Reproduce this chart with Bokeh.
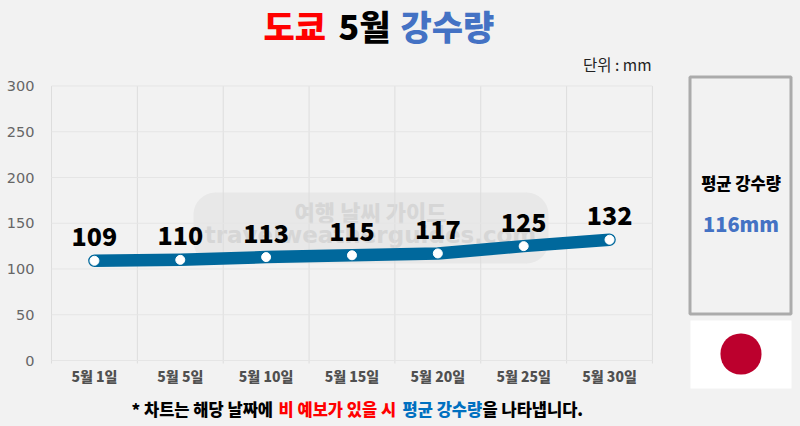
from bokeh.plotting import figure
from bokeh.embed import file_html
from bokeh.resources import INLINE
from bokeh.models import Range1d, FixedTicker, Label, BoxAnnotation, ColumnDataSource
from bokeh.core.properties import value

categories = ["5월 1일", "5월 5일", "5월 10일", "5월 15일", "5월 20일", "5월 25일", "5월 30일"]
rainfall = [109, 110, 113, 115, 117, 125, 132]
y_ticks = [0, 50, 100, 150, 200, 250, 300]

BG = "#f2f2f2"
KR = "Noto Sans CJK KR"
KRB = "Noto Sans CJK KR Black"
W, H = 800, 426

# page pixels of the plot area: the frame fills the page, the ranges put the axes in place
PX_X0, PX_XU = 51.0, 85.85     # page x of category edge 0, pixels per category
PX_Y0, PX_YU = 360.0, 0.915    # page y of value 0, pixels per unit
Y_BOTTOM = -3.3

x_pos = [i + 0.5 for i in range(len(categories))]
x_edges = list(range(len(categories) + 1))

p = figure(width=W, height=H, output_backend="svg", toolbar_location=None,
           x_range=Range1d(-PX_X0 / PX_XU, (W - PX_X0) / PX_XU),
           y_range=Range1d((PX_Y0 - H) / PX_YU, PX_Y0 / PX_YU),
           background_fill_color=BG, border_fill_color=BG, outline_line_color=None, min_border=0)
p.grid.visible = False

p.xaxis.fixed_location = 1
p.xaxis.ticker = FixedTicker(ticks=x_pos)
p.xaxis.major_label_overrides = {x: c for x, c in zip(x_pos, categories)}
p.xaxis.axis_line_color = None
p.xaxis.major_tick_line_color = None
p.xaxis.minor_tick_line_color = None
p.xaxis.major_label_text_font = KRB
p.xaxis.major_label_text_font_size = "14px"
p.xaxis.major_label_text_color = "#505050"
p.xaxis.major_label_standoff = 0

p.yaxis.fixed_location = 0
p.yaxis.ticker = FixedTicker(ticks=y_ticks)
p.yaxis.axis_line_color = None
p.yaxis.major_tick_line_color = None
p.yaxis.minor_tick_line_color = None
p.yaxis.major_label_text_font = "DejaVu Sans"
p.yaxis.major_label_text_font_size = "14.5px"
p.yaxis.major_label_text_color = "#666666"
p.yaxis.major_label_standoff = 11

def box(l, r, t, b, **kw):
    p.add_layout(BoxAnnotation(left=l, right=r, top=H - t, bottom=H - b, left_units="screen", right_units="screen",
                               top_units="screen", bottom_units="screen", **kw))

def label(px, py, text, size, color, align="left", font=KRB, bold=False, level="annotation"):
    p.add_layout(Label(x=px, y=H - py, x_units="screen", y_units="screen", text=text,
                       text_font=font, text_font_size=size, text_color=color, level=level,
                       text_font_style="bold" if bold else "normal", text_align=align, text_baseline="middle"))

# grid lines stop at the plot area
p.segment(x0=x_edges, x1=x_edges, y0=[Y_BOTTOM] * len(x_edges), y1=[300] * len(x_edges), line_color="#dddddd", line_width=1)
p.segment(x0=[0] * len(y_ticks), x1=[7] * len(y_ticks), y0=y_ticks, y1=y_ticks, line_color="#e5e5e5", line_width=1)

# watermark, below the line
box(193, 548, 192, 263, fill_color="#888888", fill_alpha=0.09, line_color=None, border_radius=22, level="underlay")
label(370, 210, "여행 날씨 가이드", "22px", "#d6d6d6", align="center", level="underlay")
label(370, 234, "travelweatherguides.com", "23px", "#d6d6d6", align="center", font="DejaVu Sans", bold=True, level="underlay")

src = ColumnDataSource(dict(x=x_pos, y=rainfall, lab=[str(v) for v in rainfall]))
p.line("x", "y", source=src, line_color="#00689c", line_width=12.5, line_cap="round", line_join="round")
p.scatter("x", "y", source=src, size=9, fill_color="white", line_color="white")
p.text("x", "y", text="lab", source=src, text_font=value(KRB), text_font_size="25px",
       text_color="black", text_align="center", text_baseline="middle", y_offset=-24)

# title
label(263, 25, "도쿄", "34px", "#ff0000")
label(338, 25, "5월", "34px", "#000000")
label(400, 25, "강수량", "34px", "#4472c4")

label(651, 63, "단위 : mm", "15.5px", "#222222", align="right", font=KR)

# footnote
label(131, 408, "* 차트는 해당 날짜에", "16.5px", "#000000")
label(278, 408, "비 예보가 있을 시", "16.5px", "#ff0000")
label(402, 408, "평균 강수량", "16.5px", "#0070c0")
label(482, 408, "을 나타냅니다.", "16.5px", "#000000")

# side panel
box(689.5, 790.5, 76.5, 313.5, fill_color=BG, fill_alpha=1, line_color="#ababab", line_alpha=1, line_width=3)
box(690, 791, 320, 388, fill_color="white", fill_alpha=1, line_color=None)
box(720, 761, 333, 374, fill_color="#bc002d", fill_alpha=1, line_color=None, border_radius=20)
label(740.5, 182, "평균 강수량", "16.5px", "#000000", align="center")
label(740.5, 223, "116mm", "20px", "#4472c4", align="center")

html = file_html(p, INLINE)
html = html.replace("<head>", "<head><style>html,body{background:#f2f2f2;margin:0}</style>", 1)
open("out.html", "w").write(html)
